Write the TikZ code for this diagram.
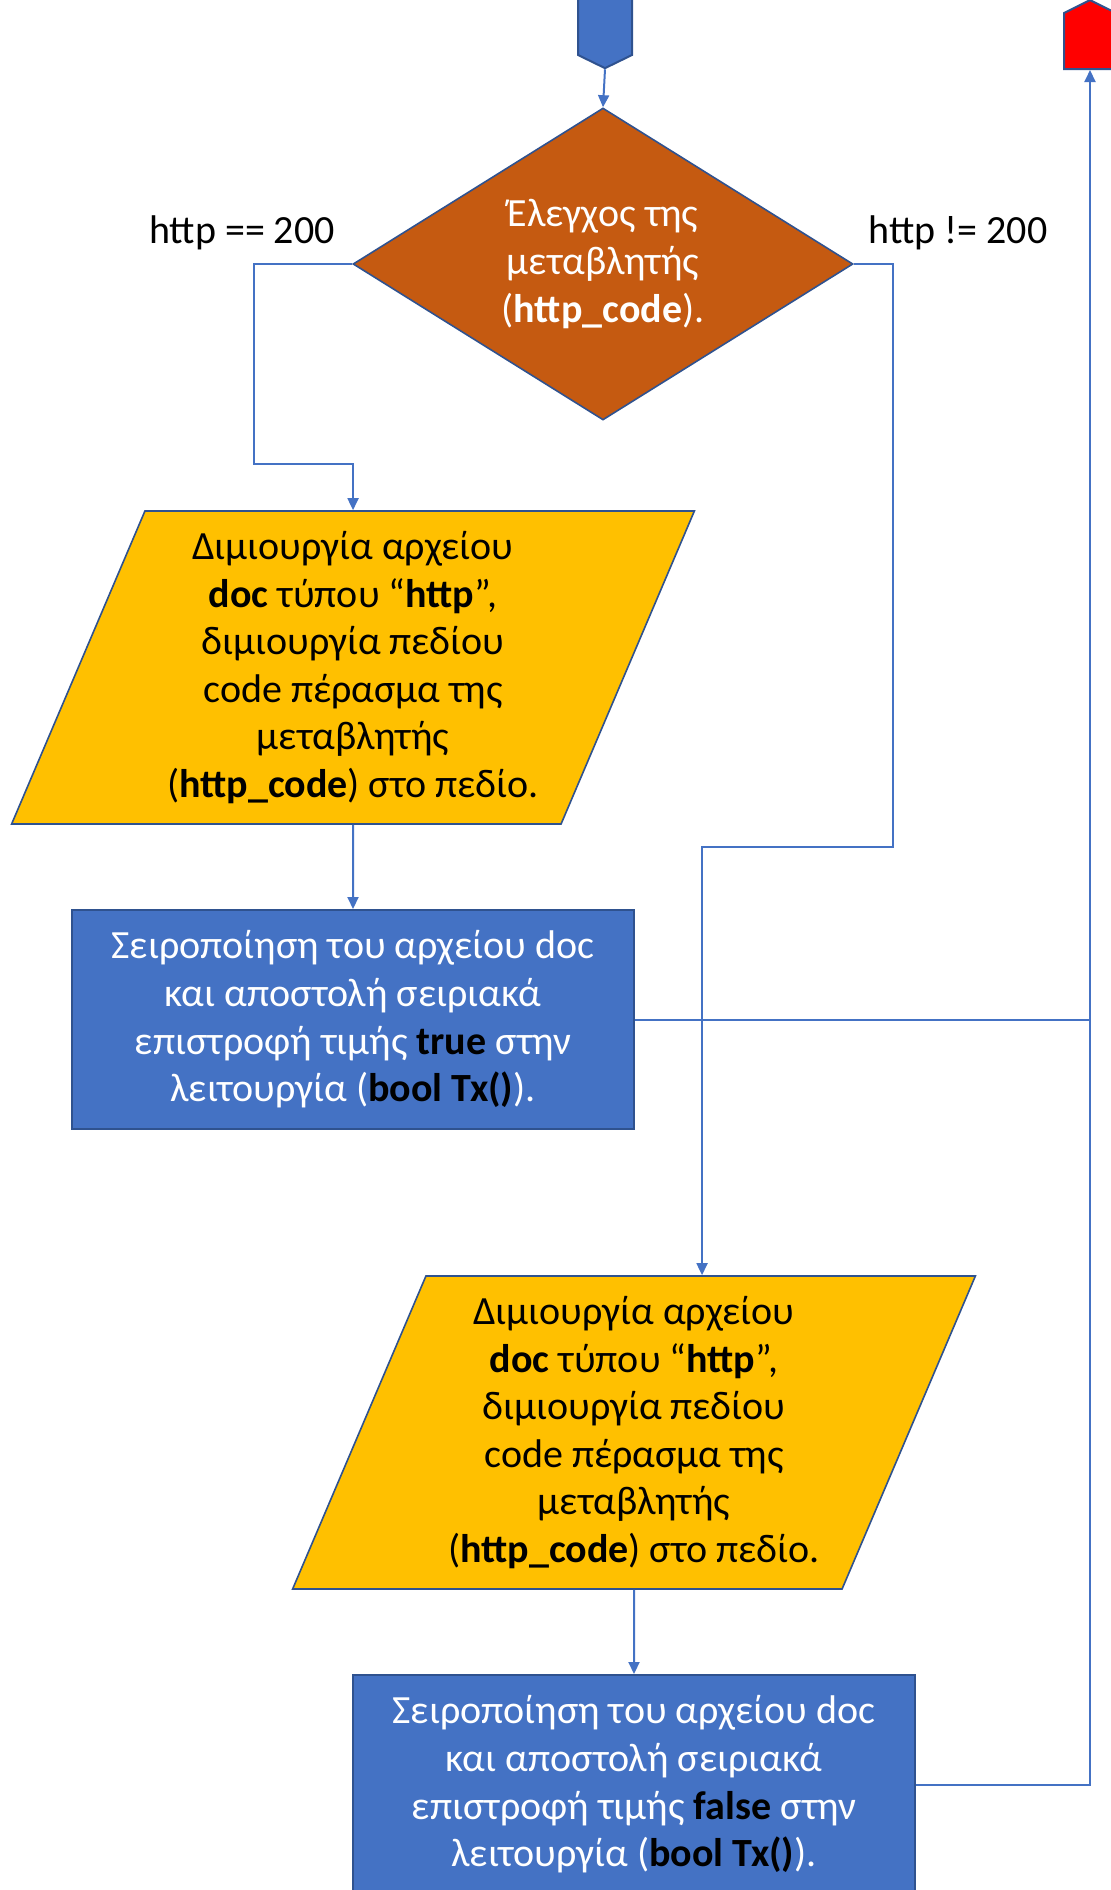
\documentclass[tikz,border=0pt]{standalone}
\usepackage{fontspec}
\setmainfont{Carlito}
\usetikzlibrary{shapes.geometric, shapes.symbols, arrows.meta}

\definecolor{officeblue}{HTML}{4472C4}
\definecolor{darkblue}{HTML}{2F528F}
\definecolor{rust}{HTML}{C55A11}
\definecolor{amber}{HTML}{FFC000}

\tikzset{
  flow/.style={officeblue, line width=1pt},
  arrowflow/.style={flow, -{Triangle[length=6pt, width=5.5pt]}},
  txt/.style={font=\fontsize{20}{23.8}\selectfont, align=center},
  decision/.style={diamond, aspect=1.6, draw=darkblue, line width=0.8pt, fill=rust, text=white,
    inner sep=0pt, minimum width=250pt, minimum height=156pt, txt},
  dataio/.style={trapezium, trapezium left angle=66.4, trapezium right angle=113.6,
    trapezium stretches=true, draw=darkblue, line width=0.8pt, fill=amber,
    inner sep=0pt, minimum width=343pt, minimum height=156.5pt, txt},
  process/.style={rectangle, draw=darkblue, line width=1pt, fill=officeblue, text=white,
    inner sep=0pt, minimum width=281pt, minimum height=109.5pt, txt},
  offpage/.style={signal, draw=darkblue, line width=1pt, inner sep=0pt},
}

\begin{document}
\begin{tikzpicture}[x=0.5pt, y=-0.5pt]
  \useasboundingbox (0,0) rectangle (1111,1890);

  % off-page connectors
  \node[offpage, signal to=south, signal pointer angle=128, fill=officeblue,
    minimum width=27pt, minimum height=50pt] (start) at (605,5) {};
  \node[offpage, signal to=north, signal pointer angle=127, fill=red,
    minimum width=26pt, minimum height=28pt] (stop) at (1090,41) {};

  % check of the variable
  \node[decision] (cond) at (603,264) {Έλεγχος της\\μεταβλητής\\(\textbf{http\_code}).};
  \node[txt] (yes) at (242,233) {http == 200};
  \node[txt] (no) at (958,233) {http != 200};

  % http == 200
  \node[dataio] (para1) at (353,667.5) {Διμιουργία αρχείου\\\textbf{doc} τύπου “\textbf{http}”,\\διμιουργία πεδίου\\code πέρασμα της\\μεταβλητής\\(\textbf{http\_code}) στο πεδίο.};
  \node[process] (box1) at (353,1019.5) {Σειροποίηση του αρχείου doc\\και αποστολή σειριακά\\επιστροφή τιμής \textcolor{black}{\textbf{true}} στην\\λειτουργία (\textcolor{black}{\textbf{bool Tx()}}).};

  % http != 200
  \node[dataio] (para2) at (634,1432.5) {Διμιουργία αρχείου\\\textbf{doc} τύπου “\textbf{http}”,\\διμιουργία πεδίου\\code πέρασμα της\\μεταβλητής\\(\textbf{http\_code}) στο πεδίο.};
  \node[process] (box2) at (634,1784.5) {Σειροποίηση του αρχείου doc\\και αποστολή σειριακά\\επιστροφή τιμής \textcolor{black}{\textbf{false}} στην\\λειτουργία (\textcolor{black}{\textbf{bool Tx()}}).};

  \draw[arrowflow] (start.south) -- (cond.north);
  \draw[arrowflow] (cond.west) -- ++(-98,0) |- ([yshift=23pt]para1.north) -- (para1.north);
  \draw[arrowflow] (para1.south) -- (box1.north);
  \draw[arrowflow] (cond.east) -- ++(39,0) |- ([xshift=34pt, yshift=214pt]para2.north)
    -- ([xshift=34pt]para2.north);
  \draw[arrowflow] (para2.south) -- (box2.north);

  % back to the end connector
  \draw[arrowflow] (box2.east) -| (stop.south);
  \draw[flow] (box1.east) -- (box1.east -| stop.south);
\end{tikzpicture}
\end{document}
